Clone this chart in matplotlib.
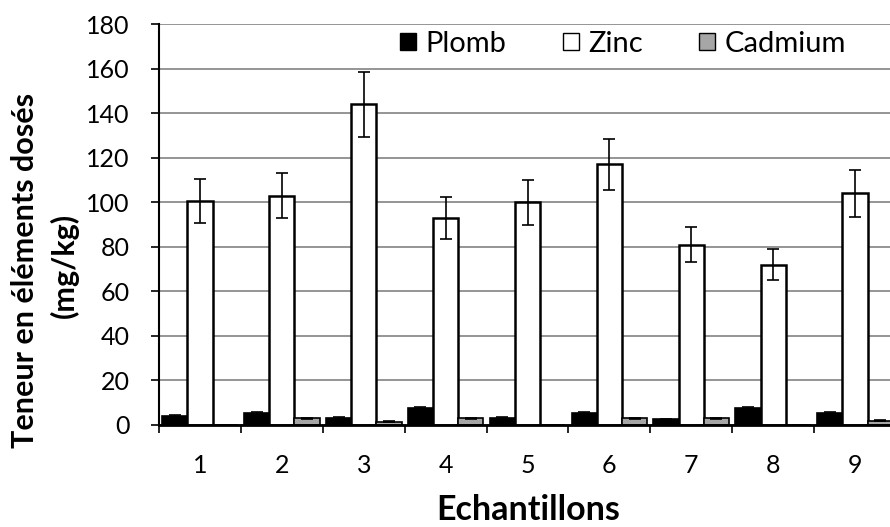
import matplotlib
matplotlib.use("Agg")
import matplotlib.pyplot as plt
import numpy as np
from matplotlib.patches import Patch

plt.rcParams['font.family'] = ['Lato', 'DejaVu Sans']

categories = ['1', '2', '3', '4', '5', '6', '7', '8', '9']
plomb = [4.0, 5.3, 3.2, 7.5, 3.2, 5.5, 2.5, 7.5, 5.2]
plomb_err = [0.4, 0.5, 0.3, 0.6, 0.3, 0.5, 0.3, 0.6, 0.5]
zinc = [100.5, 103, 144, 93, 100, 117, 81, 72, 104]
zinc_err = [10, 10, 14.5, 9.5, 10, 11.5, 8, 7, 10.5]
cadmium = [0, 3.0, 1.5, 3.0, 0, 3.0, 3.0, 0, 2.0]
cadmium_err = [0, 0.3, 0.2, 0.3, 0, 0.3, 0.3, 0, 0.2]

W, H = 890, 527
fig = plt.figure(figsize=(W/100, H/100), dpi=100)
ax = fig.add_axes([159/W, 1-425/H, (896-159)/W, (425-24)/H])

x = np.arange(len(categories))
bw = 0.308
ekw = dict(elinewidth=1.2, capthick=1.2)
ax.bar(x - bw, plomb, bw, color='black', edgecolor='black', linewidth=1.2,
       yerr=plomb_err, capsize=4, error_kw=ekw, label='Plomb', zorder=3)
ax.bar(x, zinc, bw, color='white', edgecolor='black', linewidth=1.8,
       yerr=zinc_err, capsize=4, error_kw=ekw, label='Zinc', zorder=3)
ax.bar(x + bw, cadmium, bw, color='#a6a6a6', edgecolor='black', linewidth=1.2,
       yerr=cadmium_err, capsize=4, error_kw=ekw, label='Cadmium', zorder=3)

ax.set_xlim(-0.5, len(categories) - 0.5)
ax.set_ylim(0, 180)
ax.set_yticks(np.arange(0, 181, 20))
ax.set_xticks(x)
ax.set_xticklabels(categories)
ax.set_xticks(np.arange(-0.5, len(categories), 1), minor=True)
ax.tick_params(axis='x', which='major', length=0, labelsize=18, pad=21)
ax.tick_params(axis='x', which='minor', length=6, width=1.2)
ax.tick_params(axis='y', length=6, width=1.2, labelsize=18, pad=15)
ax.yaxis.grid(True, color='#8c8c8c', linewidth=1.3, zorder=0)
ax.set_axisbelow(True)
for s in ['top', 'right']:
    ax.spines[s].set_visible(False)
ax.spines['left'].set_linewidth(1.5)
ax.spines['bottom'].set_linewidth(2)
ax.spines['bottom'].set_zorder(4)

handles = [Patch(facecolor='black', edgecolor='black'),
           Patch(facecolor='white', edgecolor='black'),
           Patch(facecolor='#a6a6a6', edgecolor='black')]
leg = fig.legend(handles, ['Plomb', 'Zinc', 'Cadmium'], ncol=3,
                 loc='center', bbox_to_anchor=(623/W, 1-44/H),
                 frameon=True, fancybox=False, edgecolor='white', framealpha=1,
                 fontsize=21, handlelength=0.55, handleheight=0.55,
                 handletextpad=0.3, columnspacing=1.95, borderpad=0.1)

fig.text(528/W, 1-510/H, 'Echantillons', ha='center', va='center',
         fontsize=24.5, fontweight='bold')
fig.text(25/W, 1-270/H, 'Teneur en éléments dosés', ha='center', va='center',
         rotation=90, fontsize=22, fontweight='bold')
fig.text(64/W, 1-265/H, '(mg/kg)', ha='center', va='center',
         rotation=90, fontsize=22, fontweight='bold')

fig.savefig('out.png', dpi=100)
